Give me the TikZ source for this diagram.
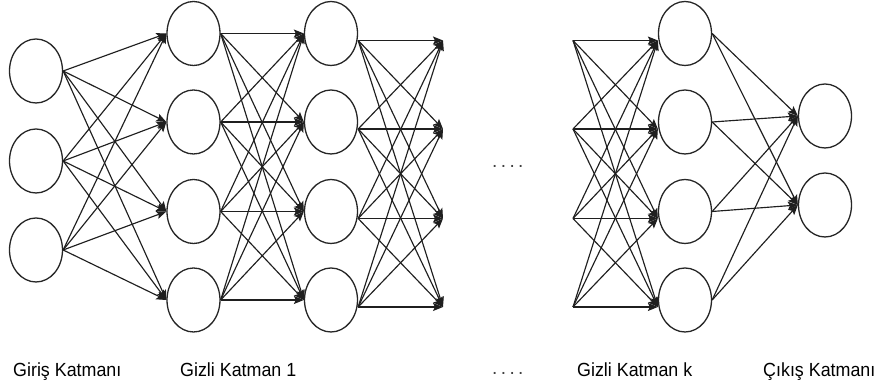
\documentclass[tikz,border=0pt]{standalone}
\usepackage{fontspec}
\setmainfont{Liberation Sans}
\usetikzlibrary{arrows.meta,shapes.geometric}

\begin{document}
\begin{tikzpicture}[x=1pt,y=1pt,
  neuron/.style={ellipse, draw=black!85, line width=1.3pt, minimum width=53pt, minimum height=64pt, inner sep=0pt},
  link/.style={draw=black!88, line width=1.15pt},
  arr/.style={link, -{Stealth[length=10pt,width=8pt,inset=2pt]}},
  caption/.style={anchor=base west, inner sep=0pt, font=\fontsize{19}{22}\selectfont},
  dots/.style={inner sep=0pt, font=\fontsize{19}{22}\selectfont, text=black!75}
]
\useasboundingbox (0,0) rectangle (875,387);

% input layer
\foreach \i/\y in {1/316,2/226,3/137}
  \node[neuron] (in\i) at (36,\y) {};

% hidden layers 1, 2 and k
\foreach \j/\y in {1/353.5,2/265,3/175.5,4/87} {
  \node[neuron] (ha\j) at (193.5,\y) {};
  \node[neuron] (hb\j) at (331,\y) {};
  \node[neuron] (hk\j) at (685,\y) {};
  % loose ends of the truncated layers
  \coordinate (d\j) at (443,\y-7);
  \coordinate (s\j) at (573,\y-7);
}

% output layer
\node[neuron] (out1) at (825,271) {};
\node[neuron] (out2) at (825,182) {};

% input -> hidden 1
\foreach \i in {1,2,3}
  \foreach \j in {1,2,3,4}
    \draw[arr] (in\i.east) -- (ha\j.west);

% hidden 1 -> hidden 2
\foreach \i in {1,2,3,4}
  \foreach \j in {1,2,3,4}
    \draw[arr] (ha\i.east) -- (hb\j.west);

% hidden 2 -> (continues)
\foreach \i in {1,2,3,4}
  \foreach \j in {1,2,3,4}
    \draw[arr] ([yshift=-7pt]hb\i.east) -- (d\j);

% (continued) -> hidden k
\foreach \i in {1,2,3,4}
  \foreach \j in {1,2,3,4}
    \draw[arr] (s\i) -- ([yshift=-7pt]hk\j.west);

% hidden k -> output
\foreach \i in {1,2,3,4}
  \foreach \j in {1,2}
    \draw[arr] (hk\i.east) -- (out\j.west);

% ellipsis between the layers
\node[dots, anchor=base west] (gap) at (492,219) {.\kern3.4pt.\kern3.4pt.\kern3.4pt.};

% layer captions
\node[caption] (capin) at (13,10) {\scalebox{0.94}[1]{Giriş Katmanı}};
\node[caption] (capa) at (180,10) {\scalebox{0.94}[1]{Gizli Katman 1}};
\node[dots, anchor=base west] (capgap) at (492,12) {.\kern3.4pt.\kern3.4pt.\kern3.4pt.};
\node[caption] (capk) at (577,10) {\scalebox{0.94}[1]{Gizli Katman k}};
\node[caption] (capout) at (763,10) {\scalebox{0.94}[1]{Çıkış Katmanı}};
\end{tikzpicture}
\end{document}
